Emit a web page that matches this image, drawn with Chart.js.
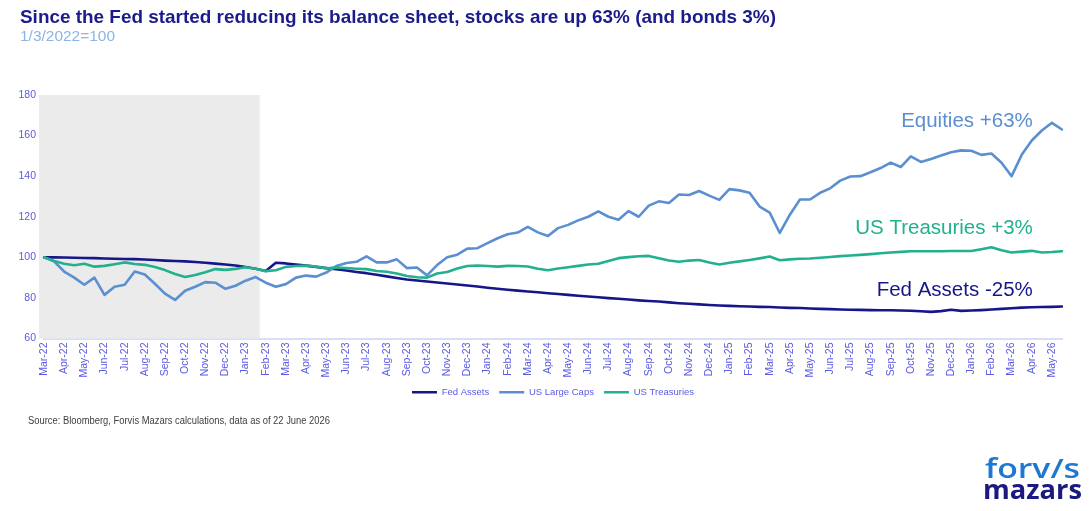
<!DOCTYPE html>
<html>
<head>
<meta charset="utf-8">
<script src="https://cdn.jsdelivr.net/npm/chart.js@4.4.1/dist/chart.umd.min.js"></script>
<style>
html,body{margin:0;padding:0;background:#fff;}
#wrap{position:relative;width:1092px;height:511px;overflow:hidden;font-family:"Liberation Sans",Arial,sans-serif;}
#c{position:absolute;left:0;top:0;}
.t{position:absolute;white-space:nowrap;transform-origin:0 0;}
#title{left:20px;top:7px;font-size:18.5px;line-height:20px;font-weight:bold;color:#1b1b8c;}
#sub{left:20px;top:28px;font-size:14px;line-height:16px;color:#8db4e2;}
#source{left:28px;top:415px;font-size:10px;line-height:12px;color:#404040;}
#logo1{left:985px;top:454px;font-family:"Open Sans",sans-serif;font-weight:600;font-size:27px;line-height:27px;color:#1f78cf;}
#logo2{left:983px;top:475px;font-family:"Open Sans",sans-serif;font-weight:700;font-size:27px;line-height:27px;color:#1a1a80;}
</style>
</head>
<body>
<div id="wrap">
  <canvas id="c" width="1092" height="511"></canvas>
  <div class="t" id="title">Since the Fed started reducing its balance sheet, stocks are up 63% (and bonds 3%)</div>
  <div class="t" id="sub">1/3/2022=100</div>
  <div class="t" id="source">Source: Bloomberg, Forvis Mazars calculations, data as of 22 June 2026</div>
  <div class="t" id="logo1">forv/s</div>
  <div class="t" id="logo2">mazars</div>
</div>
<script>
// ---- data ----
const monthLabels = ['Mar-22','Apr-22','May-22','Jun-22','Jul-22','Aug-22','Sep-22','Oct-22','Nov-22','Dec-22',
  'Jan-23','Feb-23','Mar-23','Apr-23','May-23','Jun-23','Jul-23','Aug-23','Sep-23','Oct-23','Nov-23','Dec-23',
  'Jan-24','Feb-24','Mar-24','Apr-24','May-24','Jun-24','Jul-24','Aug-24','Sep-24','Oct-24','Nov-24','Dec-24',
  'Jan-25','Feb-25','Mar-25','Apr-25','May-25','Jun-25','Jul-25','Aug-25','Sep-25','Oct-25','Nov-25','Dec-25',
  'Jan-26','Feb-26','Mar-26','Apr-26','May-26'];

// two observations per month (1st and 16th)
const categories = monthLabels.flatMap(m => ['1 ' + m, '16 ' + m]);

const fedAssets = [
  100,100,99.9,99.8,99.7,99.6,99.4,99.3,99.2,99.1,
  98.9,98.7,98.4,98.2,98.0,97.7,97.3,96.9,96.5,96.0,
  95.2,94.4,93.3,97.3,97.0,96.4,95.9,95.3,94.7,94.1,
  93.5,92.8,92.2,91.4,90.6,89.8,89.1,88.6,88.1,87.6,
  87.1,86.6,86.1,85.6,85.0,84.5,84.0,83.6,83.2,82.8,
  82.3,81.9,81.5,81.1,80.7,80.3,79.9,79.6,79.2,78.8,
  78.5,78.2,77.8,77.4,77.1,76.8,76.5,76.3,76.1,75.9,
  75.8,75.6,75.5,75.3,75.1,75.0,74.8,74.6,74.5,74.3,
  74.2,74.1,74.0,73.9,73.9,73.8,73.7,73.4,73.1,73.5,
  74.2,73.6,73.8,74.0,74.3,74.6,74.9,75.2,75.4,75.5,
  75.6,75.8];

const usLargeCaps = [
  100,98,93,90,86.5,90,81.5,85.5,86.5,93,
  91.5,87,82.1,79,83.5,85.5,87.8,87.5,84.5,86,
  88.5,90.3,87.5,85.5,86.8,90,91,90.5,92.5,95.7,
  97.2,97.8,100.5,97.5,97.5,99,94.7,95,91.1,96.2,
  100,101.3,104.3,104.5,107,109.4,111.4,112.2,115,112.3,
  110.5,114.4,116,118.2,120,122.7,120,118.5,122.8,120,
  125.5,127.6,126.8,131,130.7,132.7,130.4,128.3,133.6,133,
  131.8,125,122,112,121,128.5,128.5,131.8,134,137.8,
  139.8,140,141.9,144,146.7,144.5,149.8,147,148.5,150.2,
  151.8,152.7,152.5,150.5,151.2,146.6,140,150.5,157.6,162.5,
  166.3,163];

const usTreasuries = [
  100,98.2,96.8,96.1,96.8,95.4,95.8,96.6,97.5,96.7,
  96.3,95.2,93.7,91.8,90.3,91.3,92.6,94.2,93.8,94.3,
  95.1,94.4,93.2,93.6,95.3,95.7,95.9,95.4,94.6,95.0,
  94.7,94.4,94.2,93.3,92.9,92.0,90.8,90.2,90.0,92.0,
  92.8,94.5,95.7,96.0,95.7,95.4,95.8,95.7,95.5,94.4,
  93.6,94.5,95.1,95.8,96.5,96.8,98.2,99.6,100.1,100.5,
  100.7,99.5,98.4,97.8,98.4,98.7,97.5,96.5,97.3,98.0,
  98.7,99.5,100.4,98.6,99.0,99.3,99.4,99.8,100.2,100.6,
  100.9,101.2,101.6,102.0,102.4,102.7,103.0,103.0,103.0,103.0,
  103.1,103.1,103.1,104.0,105.0,103.5,102.4,102.8,103.2,102.4,
  102.6,103.0];

const seriesNames = ['Fed Assets', 'US Large Caps', 'US Treasuries'];
const endLabels = ['Fed Assets -25%', 'Equities +63%', 'US Treasuries +3%'];

// ---- styling ----
const navy = '#16168a', steel = '#5b8fd1', teal = '#22b08d', axisTxt = '#5a5ae4';
Chart.defaults.font.family = "'Liberation Sans', Arial, sans-serif";

// shaded period (in category-index units) and end-label anchors
const shadeFrom = -0.5, shadeTo = 21.4;
const labelAnchors = [
  {idx: 98.1, val: 83.7, color: navy},
  {idx: 98.1, val: 167.2, color: steel},
  {idx: 98.1, val: 114.3, color: teal}
];

const decor = {
  id: 'decor',
  beforeDatasetsDraw(chart) {
    const {ctx, chartArea, scales} = chart;
    const x0 = scales.x.getPixelForValue(shadeFrom);
    const x1 = scales.x.getPixelForValue(shadeTo);
    ctx.save();
    ctx.fillStyle = '#ebebeb';
    ctx.fillRect(x0, chartArea.top, x1 - x0, chartArea.bottom - chartArea.top);
    ctx.restore();
  },
  afterDatasetsDraw(chart) {
    const {ctx, scales} = chart;
    ctx.save();
    ctx.font = "20.5px 'Liberation Sans', Arial, sans-serif";
    ctx.textAlign = 'right';
    ctx.textBaseline = 'middle';
    labelAnchors.forEach((a, i) => {
      ctx.fillStyle = a.color;
      ctx.fillText(endLabels[i], scales.x.getPixelForValue(a.idx), scales.y.getPixelForValue(a.val));
    });
    ctx.restore();
  }
};

const lineW = 2.6;
new Chart(document.getElementById('c'), {
  type: 'line',
  data: {
    labels: categories,
    datasets: [
      {label: seriesNames[0], data: fedAssets, borderColor: navy, backgroundColor: navy, borderWidth: lineW, order: 3},
      {label: seriesNames[1], data: usLargeCaps, borderColor: steel, backgroundColor: steel, borderWidth: lineW, order: 2},
      {label: seriesNames[2], data: usTreasuries, borderColor: teal, backgroundColor: teal, borderWidth: lineW, order: 1}
    ]
  },
  options: {
    responsive: false,
    animation: false,
    devicePixelRatio: 1,
    layout: {padding: {left: 17, right: 30, top: 95, bottom: 104}},
    elements: {
      line: {tension: 0, borderJoinStyle: 'round', borderCapStyle: 'round'},
      point: {radius: 0, hoverRadius: 0}
    },
    scales: {
      x: {
        type: 'category',
        grid: {display: false, drawTicks: false},
        border: {display: true, color: '#dcdcf5', width: 2},
        ticks: {
          autoSkip: false, minRotation: 90, maxRotation: 90, padding: 4,
          color: axisTxt, font: {size: 10.5},
          callback: (v, i) => (i % 2 === 0 ? monthLabels[i / 2] : '')
        },
        afterFit(s) { s.height = 39; }
      },
      y: {
        min: 60, max: 180,
        grid: {display: false, drawTicks: false},
        border: {display: false},
        ticks: {stepSize: 20, color: axisTxt, font: {size: 10.5}, padding: 8},
        afterFit(s) { s.width = 27; }
      }
    },
    plugins: {
      title: {display: false},
      tooltip: {enabled: false},
      legend: {
        position: 'bottom',
        fullSize: false,
        labels: {
          usePointStyle: true, pointStyle: 'line', pointStyleWidth: 25,
          color: axisTxt, font: {size: 9.5}, padding: 10,
          sort: (a, b) => a.datasetIndex - b.datasetIndex
        }
      }
    }
  },
  plugins: [decor]
});

// fit header/footer text widths to the reference
function fit(id, w) {
  const el = document.getElementById(id);
  const r = w / el.getBoundingClientRect().width;
  el.style.transform = 'scaleX(' + r + ')';
}
fit('title', 756); fit('sub', 95); fit('source', 302); fit('logo1', 95); fit('logo2', 99);
</script>
</body>
</html>
